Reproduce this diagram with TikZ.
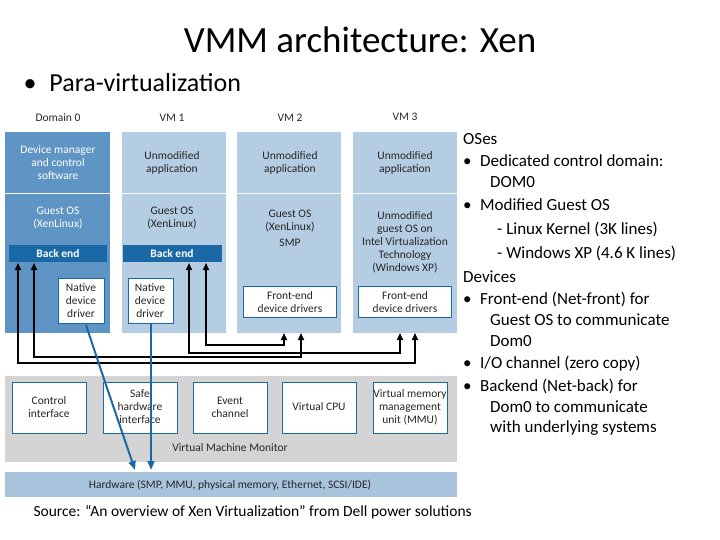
\documentclass[tikz,border=0pt]{standalone}
\usepackage{fontspec}
\setmainfont{Carlito}
\usetikzlibrary{arrows.meta}
\definecolor{domblue}{HTML}{5E95C4}
\definecolor{vmblue}{HTML}{B4CDE3}
\definecolor{barblue}{HTML}{1B68A6}
\definecolor{hwblue}{HTML}{A8C3DC}
\definecolor{vmmgray}{HTML}{D4D4D4}
\tikzset{
  lbl/.style={font=\fontsize{11.5}{13}\selectfont, align=center, text=black!85, inner sep=1pt},
  wbox/.style={draw=barblue, fill=white, line width=0.8pt},
  link/.style={line width=1.6pt},
  blink/.style={barblue, line width=2pt, -{Triangle[length=9pt,width=7pt]}},
  rtext/.style={anchor=west, font=\fontsize{17}{19}\selectfont, inner sep=0pt},
}
\begin{document}
\begin{tikzpicture}[x=1pt,y=-1pt]
	\useasboundingbox (0,0) rectangle (720,540);
	% title
	\node (title) at (360,40) {\fontsize{37}{40}\selectfont VMM architecture: Xen};
	\node[anchor=west] (para) at (20,83) {\fontsize{26}{30}\selectfont \textbullet\enspace Para-virtualization};
	% columns
	\fill[domblue] (5,132) rectangle (110,333);
	\foreach \l in {122,237,353} \fill[vmblue] (\l,132) rectangle ++(104,201);
	\foreach \l in {5,122,237,353} \draw[white, line width=1pt] (\l,194) -- ++(105,0);
	\node[lbl] (d0) at (58,118) {Domain 0};
	\node[lbl] (v1) at (172,118) {VM 1};
	\node[lbl] (v2) at (290,118) {VM 2};
	\node[lbl] (v3) at (405,117) {VM 3};
	\node[lbl, text=white] (dm) at (58,163) {Device manager\\and control\\software};
	\node[lbl] (ap1) at (172,163) {Unmodified\\application};
	\node[lbl] (ap2) at (290,163) {Unmodified\\application};
	\node[lbl] (ap3) at (405,163) {Unmodified\\application};
	\node[lbl, text=white] (os0) at (58,218) {Guest OS\\(XenLinux)};
	\node[lbl] (os1) at (172,218) {Guest OS\\(XenLinux)};
	\node[lbl] (os2) at (290,228) {Guest OS\\(XenLinux)\\[3pt]SMP};
	\node[lbl] (os3) at (405,242) {Unmodified\\guest OS on\\Intel Virtualization\\Technology\\(Windows XP)};
	\fill[barblue] (9,245) rectangle (107,262);
	\fill[barblue] (123,245) rectangle (222,262);
	\node[lbl, text=white, font=\fontsize{11.5}{13}\bfseries] (be0) at (58,254) {Back end};
	\node[lbl, text=white, font=\fontsize{11.5}{13}\bfseries] (be1) at (172,254) {Back end};
	\draw[wbox] (58,278) rectangle (104,323);
	\node[lbl] (nd0) at (81,301) {Native\\device\\driver};
	\draw[wbox] (128,278) rectangle (173,323);
	\node[lbl] (nd1) at (150,301) {Native\\device\\driver};
	\draw[wbox] (243,286) rectangle (336,317);
	\node[lbl] (fe2) at (290,302) {Front-end\\device drivers};
	\draw[wbox] (358,286) rectangle (451,317);
	\node[lbl] (fe3) at (405,302) {Front-end\\device drivers};
	% VMM
	\fill[vmmgray] (5,376) rectangle (457,462);
	\foreach \l in {12,103,193,282,373} \draw[wbox] (\l,382) rectangle ++(74,51);
	\node[lbl] (ci) at (49,407) {Control\\interface};
	\node[lbl] (shi) at (140,407) {Safe\\hardware\\interface};
	\node[lbl] (ec) at (230,407) {Event\\channel};
	\node[lbl] (vcpu) at (319,407) {Virtual CPU};
	\node[lbl] (mmu) at (410,407) {Virtual memory\\management\\unit (MMU)};
	\node[lbl] (vmm) at (230,448) {Virtual Machine Monitor};
	% hardware
	\fill[hwblue] (5,472) rectangle (457,497);
	\node[lbl] (hw) at (230,485) {Hardware (SMP, MMU, physical memory, Ethernet, SCSI/IDE)};
	% split-driver channels
	\draw[link, {Triangle[length=7pt,width=6pt]}-{Triangle[length=7pt,width=6pt]}] (18,263) |- (415,363) -- (415,333);
	\draw[link, {Triangle[length=7pt,width=6pt]}-{Triangle[length=7pt,width=6pt]}] (34,263) |- (301,357) -- (301,333);
	\draw[link, {Triangle[length=7pt,width=6pt]}-{Triangle[length=7pt,width=6pt]}] (189,263) |- (400,353) -- (400,333);
	\draw[link, {Triangle[length=7pt,width=6pt]}-{Triangle[length=7pt,width=6pt]}] (206,263) |- (284,345) -- (284,333);
	% native drivers to hardware
	\draw[blink] (86,325) -- (105,382) -- (135,470);
	\draw[blink] (151,323) -- (151,470);
	% notes
	\node[rtext] (n1) at (463,139) {OSes};
	\node[rtext] (n2) at (463,161) {\textbullet\enspace Dedicated control domain:};
	\node[rtext] (n3) at (490,182) {DOM0};
	\node[rtext] (n4) at (463,205) {\textbullet\enspace Modified Guest OS};
	\node[rtext] (n5) at (497,229) {- Linux Kernel (3K lines)};
	\node[rtext] (n6) at (497,253) {- Windows XP (4.6 K lines)};
	\node[rtext] (n7) at (463,277) {Devices};
	\node[rtext] (n8) at (463,299) {\textbullet\enspace Front-end (Net-front) for};
	\node[rtext] (n9) at (490,320) {Guest OS to communicate};
	\node[rtext] (n10) at (490,341) {Dom0};
	\node[rtext] (n11) at (463,364) {\textbullet\enspace I/O channel (zero copy)};
	\node[rtext] (n12) at (463,386) {\textbullet\enspace Backend (Net-back) for};
	\node[rtext] (n13) at (490,407) {Dom0 to communicate};
	\node[rtext] (n14) at (490,428) {with underlying systems};
	\node[anchor=west, font=\fontsize{15.5}{17}\selectfont] (src) at (30,512) {Source: “An overview of Xen Virtualization” from Dell power solutions};
\end{tikzpicture}
\end{document}
